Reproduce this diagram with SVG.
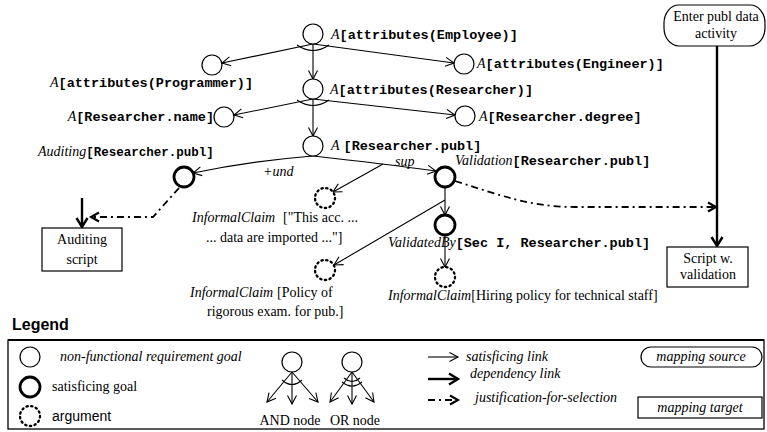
<svg xmlns="http://www.w3.org/2000/svg" width="767" height="432" viewBox="0 0 767 432">
<style>
.it{font-family:"Liberation Serif",serif;font-style:italic;font-size:14px}
.rm{font-family:"Liberation Serif",serif;font-size:14px}
.mono{font-family:"Liberation Mono",monospace;font-weight:bold;font-size:13.5px}
.sans{font-family:"Liberation Sans",sans-serif;font-size:14px}
.g{fill:#fff;stroke:#000;stroke-width:1.2}
.s{fill:#fff;stroke:#000;stroke-width:2.8}
.a{fill:#fff;stroke:#000;stroke-width:2.3;stroke-dasharray:1.4 3.4;stroke-linecap:round}
.ln{fill:none;stroke:#000;stroke-width:1.1}
.dep{fill:none;stroke:#000;stroke-width:2.4}
.jus{fill:none;stroke:#000;stroke-width:1.8;stroke-dasharray:7 4 2 4}
.box{fill:#fff;stroke:#000;stroke-width:1.2}
</style>
<defs>
<marker id="ah" viewBox="-11 -7 13 14" refX="0" refY="0" markerWidth="13" markerHeight="14" markerUnits="userSpaceOnUse" orient="auto"><path d="M-8.5,-4.5 L0,0 L-8.5,4.5" fill="none" stroke="#000" stroke-width="1.1"/></marker>
<marker id="ahb" viewBox="-12 -8 15 16" refX="0" refY="0" markerWidth="15" markerHeight="16" markerUnits="userSpaceOnUse" orient="auto"><path d="M-9,-5.5 L0,0 L-9,5.5" fill="none" stroke="#000" stroke-width="2.4"/></marker>
<marker id="ahj" viewBox="-12 -8 15 16" refX="0" refY="0" markerWidth="15" markerHeight="16" markerUnits="userSpaceOnUse" orient="auto"><path d="M-8,-4.5 L0,0 L-8,4.5" fill="none" stroke="#000" stroke-width="2.1"/></marker>
</defs>

<g id="connectors">
<path class="ln" d="M313,44 L222,63" marker-end="url(#ah)"/>
<path class="ln" d="M313,44 L454,63" marker-end="url(#ah)"/>
<path class="ln" d="M313,44 L313,79" marker-end="url(#ah)"/>
<path class="ln" d="M297,45 Q313,56 329,45"/>
<path class="ln" d="M313,99 L234,115" marker-end="url(#ah)"/>
<path class="ln" d="M313,99 L455,115" marker-end="url(#ah)"/>
<path class="ln" d="M313,99 L313,136" marker-end="url(#ah)"/>
<path class="ln" d="M297,100 Q313,111 329,100"/>
<path class="ln" d="M313,156 Q250,161 193,173" marker-end="url(#ah)"/>
<path class="ln" d="M313,156 Q385,164 436,171" marker-end="url(#ah)"/>
<path class="ln" d="M383,164 L333,192" marker-end="url(#ah)"/>
<path class="ln" d="M445,187 L445,215" marker-end="url(#ah)"/>
<path class="ln" d="M445,200 L334,265" marker-end="url(#ah)"/>
<path class="ln" d="M445,235 L445,267" marker-end="url(#ah)"/>
<path class="jus" d="M455,181 C500,195 530,207 575,207 L716,207" marker-end="url(#ahj)"/>
<path class="jus" d="M179,188 L153,217 L91,217" marker-end="url(#ahj)"/>
<path class="dep" d="M82,198 L82,227" marker-end="url(#ahb)"/>
<path class="dep" d="M717,46 L717,246" marker-end="url(#ahb)"/>
</g>

<g id="n-employee"><circle class="g" cx="313" cy="34" r="10"/><text x="331" y="39"><tspan class="it">A</tspan><tspan class="mono">[attributes(Employee)]</tspan></text></g>
<g id="n-programmer"><circle class="g" cx="212" cy="65" r="10"/><text x="253" y="87" text-anchor="end"><tspan class="it">A</tspan><tspan class="mono">[attributes(Programmer)]</tspan></text></g>
<g id="n-engineer"><circle class="g" cx="464" cy="64" r="10"/><text x="477" y="68"><tspan class="it">A</tspan><tspan class="mono">[attributes(Engineer)]</tspan></text></g>
<g id="n-researcher"><circle class="g" cx="313" cy="89" r="10"/><text x="330" y="94"><tspan class="it">A</tspan><tspan class="mono">[attributes(Researcher)]</tspan></text></g>
<g id="n-name"><circle class="g" cx="224" cy="117" r="10"/><text x="214" y="121" text-anchor="end"><tspan class="it">A</tspan><tspan class="mono">[Researcher.name]</tspan></text></g>
<g id="n-degree"><circle class="g" cx="465" cy="116" r="10"/><text x="479" y="121"><tspan class="it">A</tspan><tspan class="mono">[Researcher.degree]</tspan></text></g>
<g id="n-publ"><circle class="g" cx="313" cy="146" r="10"/><text x="331" y="150"><tspan class="it">A</tspan><tspan class="mono" dx="4">[Researcher.publ]</tspan></text></g>
<g id="n-auditing"><circle class="s" cx="184" cy="177" r="10"/><text x="38" y="156"><tspan class="it">Auditing</tspan><tspan class="mono" style="font-size:12.5px">[Researcher.publ]</tspan></text>
<text class="it" x="263" y="176">+und</text></g>
<g id="n-validation"><circle class="s" cx="445" cy="177" r="10"/><text x="455" y="165"><tspan class="it">Validation</tspan><tspan class="mono">[Researcher.publ]</tspan></text>
<text class="it" x="395" y="166">sup</text></g>
<g id="n-validatedby"><circle class="s" cx="445" cy="225" r="10"/><text x="388" y="247"><tspan class="it">ValidatedBy</tspan><tspan class="mono">[Sec I, Researcher.publ]</tspan></text></g>
<g id="n-claim1"><circle class="a" cx="325" cy="198" r="10"/><text y="222"><tspan class="it" x="192">InformalClaim</tspan><tspan class="rm" x="283">["This acc. ...</tspan></text><text class="rm" x="206" y="242">... data are imported ..."]</text></g>
<g id="n-claim2"><circle class="a" cx="325" cy="270" r="10"/><text y="297"><tspan class="it" x="190">InformalClaim</tspan><tspan class="rm" x="277">[Policy of</tspan></text><text class="rm" x="207" y="316">rigorous exam. for pub.]</text></g>
<g id="n-claim3"><circle class="a" cx="445" cy="277" r="10"/><text y="300" x="388"><tspan class="it">InformalClaim</tspan><tspan class="rm">[Hiring policy for technical staff]</tspan></text></g>
<g id="n-audscript"><rect class="box" x="42" y="228" width="80" height="43"/><text class="rm" x="82" y="244" text-anchor="middle">Auditing</text><text class="rm" x="82" y="264" text-anchor="middle">script</text></g>
<g id="n-valscript"><rect class="box" x="667" y="247" width="81" height="40"/><text class="rm" x="708" y="263" text-anchor="middle">Script w.</text><text class="rm" x="708" y="279" text-anchor="middle">validation</text></g>
<g id="n-enter"><rect class="box" x="664" y="5" width="101" height="41" rx="15" ry="18"/><text class="rm" x="716" y="21" text-anchor="middle">Enter publ data</text><text class="rm" x="716" y="38" text-anchor="middle">activity</text></g>

<g id="legend">
<text class="sans" x="12" y="330" style="font-weight:bold;font-size:16px">Legend</text>
<rect x="8" y="340" width="756" height="89" fill="none" stroke="#000" stroke-width="1.3"/>
<line x1="8" y1="340" x2="764" y2="340" stroke="#000" stroke-width="2.2"/>
<circle class="g" cx="30" cy="357" r="10"/><text class="it" x="60" y="361">non-functional requirement goal</text>
<circle class="s" cx="30" cy="387" r="10"/><text class="rm" x="52" y="391">satisficing goal</text>
<circle class="a" cx="30" cy="416" r="10"/><text class="sans" x="52" y="421">argument</text>
<circle class="g" cx="292" cy="362" r="10"/>
<path class="ln" d="M292,372 L267,402" marker-end="url(#ah)"/>
<path class="ln" d="M292,372 L292,404" marker-end="url(#ah)"/>
<path class="ln" d="M292,372 L318,402" marker-end="url(#ah)"/>
<path class="ln" d="M282,380 Q292,389 302,380"/>
<text class="rm" x="290" y="425" text-anchor="middle">AND node</text>
<circle class="g" cx="352" cy="362" r="10"/>
<path class="ln" d="M352,372 L330,402" marker-end="url(#ah)"/>
<path class="ln" d="M352,372 L352,404" marker-end="url(#ah)"/>
<path class="ln" d="M352,372 L374,402" marker-end="url(#ah)"/>
<path class="ln" d="M344,378 Q352,385 360,378"/>
<path class="ln" d="M342,382 Q352,390 362,382"/>
<text class="rm" x="355" y="425" text-anchor="middle">OR node</text>
<path class="ln" d="M428,357 L458,357" marker-end="url(#ah)"/>
<text class="it" x="466" y="361">satisficing link</text>
<path class="dep" d="M428,379 L458,379" marker-end="url(#ahb)"/>
<text class="it" x="470" y="378">dependency link</text>
<path class="jus" d="M428,400 L458,400" marker-end="url(#ahj)"/>
<text class="it" x="475" y="402">justification-for-selection</text>
<rect class="box" x="641" y="347" width="121" height="20" rx="10" ry="10"/>
<text class="it" x="701" y="361" text-anchor="middle">mapping source</text>
<rect class="box" x="638" y="397" width="124" height="21"/>
<text class="it" x="700" y="412" text-anchor="middle">mapping target</text>
</g>
</svg>
